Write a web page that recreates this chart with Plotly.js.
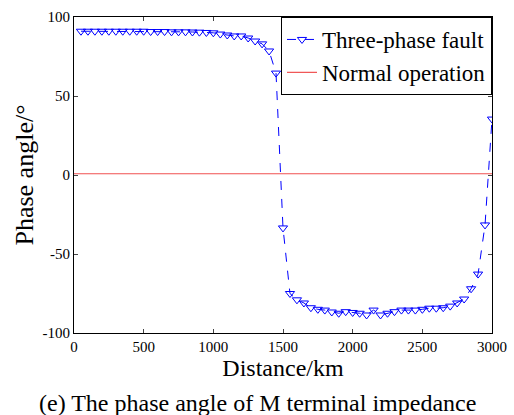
<!DOCTYPE html>
<html>
<head>
<meta charset="utf-8">
<script src="https://cdn.plot.ly/plotly-3.0.1.min.js"></script>
<style>html,body{margin:0;padding:0;background:#fff;}#chart{width:514px;height:415px;}</style>
</head>
<body>
<div id="chart"></div>
<script>
const distance = [50,100,150,200,250,300,350,400,450,500,550,600,650,700,750,800,850,900,950,1000,
  1050,1100,1150,1200,1250,1300,1350,1400,1450,1500,1550,1600,1650,1700,1750,1800,1850,1900,1950,2000,
  2050,2100,2150,2200,2250,2300,2350,2400,2450,2500,2550,2600,2650,2700,2750,2800,2850,2900,2950,3000];
const faultAngle = [91,91,91,91,91,91,91,91,91,91,90.8,90.8,90.8,90.6,90.6,90.6,90.5,90.4,90.2,90,
  89.2,88.6,88,88,86.7,84.8,83,78.5,64.5,-33.5,-75,-79,-81,-84,-85,-85.5,-86.7,-87.5,-86.5,-87,
  -87.5,-88.6,-85.5,-88.6,-87.5,-86.5,-85.5,-85.5,-85.5,-85,-84.3,-84.3,-84,-83,-81,-78.5,-72,-62.7,-31.6,35.4];
const normalX = [0,3000];
const normalAngle = [0.8,0.8];
const xTicks = [0,500,1000,1500,2000,2500,3000];
const yTicks = [-100,-50,0,50,100];

const font = "'Liberation Serif', serif";
const traces = [
  {x: distance, y: faultAngle, type:'scatter', mode:'lines+markers', name:'Three-phase fault',
   line:{color:'#0000ff', width:1, dash:'dash'},
   marker:{symbol:'triangle-down-open', size:8, color:'#0000ff', line:{width:1, color:'#0000ff'}}},
  {x: normalX, y: normalAngle, type:'scatter', mode:'lines', name:'Normal operation',
   line:{color:'#f05050', width:1.2}}
];
const layout = {
  width:514, height:415,
  margin:{l:74, r:22, t:17, b:82},
  paper_bgcolor:'#fff', plot_bgcolor:'#fff',
  font:{family:font, color:'#000', size:15},
  showlegend:true,
  legend:{x:1, y:1, xanchor:'right', yanchor:'top', bordercolor:'#000', borderwidth:1,
    bgcolor:'#fff', font:{family:font, size:23}, tracegroupgap:0, itemwidth:30},
  xaxis:{range:[0,3000], tickvals:xTicks, ticktext:xTicks.map(String), ticks:'inside', ticklen:4,
    showline:true, linecolor:'#000', linewidth:1, mirror:'ticks', showgrid:false, zeroline:false,
    tickfont:{family:font, size:15},
    title:{text:'Distance/km', font:{family:font, size:24}, standoff:4}},
  yaxis:{range:[-100,100], tickvals:yTicks, ticktext:yTicks.map(String), ticks:'inside', ticklen:4,
    showline:true, linecolor:'#000', linewidth:1, mirror:'ticks', showgrid:false, zeroline:false,
    tickfont:{family:font, size:15},
    title:{text:'Phase angle/°', font:{family:font, size:26}, standoff:1}},
  annotations:[{text:'(e) The phase angle of M terminal impedance', xref:'paper', yref:'paper',
    x:0.44, y:-0.2215, xanchor:'center', yanchor:'middle', showarrow:false,
    font:{family:font, size:24}}]
};
Plotly.newPlot('chart', traces, layout, {displayModeBar:false, staticPlot:true});
</script>
</body>
</html>
